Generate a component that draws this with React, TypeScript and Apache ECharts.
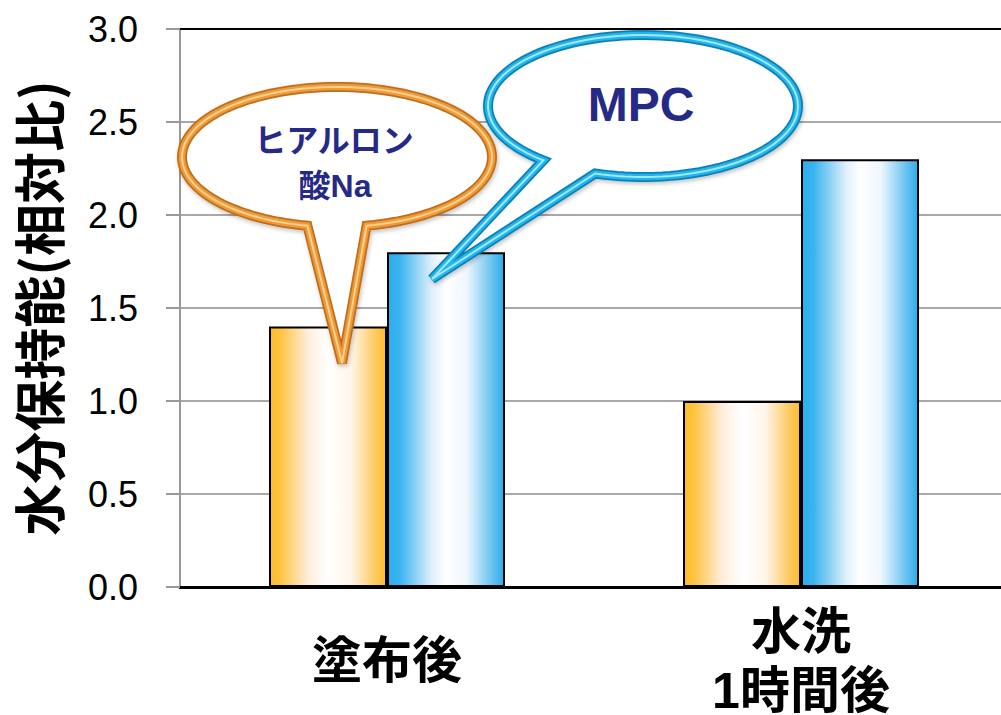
import React, { useEffect, useRef } from "react";
import * as echarts from "echarts";

const categories = ["塗布後", "水洗\n1時間後"];
const hyaluronValues = [1.4, 1.0];
const mpcValues = [1.8, 2.3];
const yTicks = { min: 0, max: 3, interval: 0.5 };
const yAxisName = "水分保持能(相対比)";
const bubbleHyaluron = ["ヒアルロン", "酸Na"];
const bubbleMpc = "MPC";

function bubblePoints(
  cx: number,
  cy: number,
  rx: number,
  ry: number,
  tStartDeg: number,
  tEndDeg: number,
  tip: [number, number]
): number[][] {
  const pts: number[][] = [tip];
  const n = 120;
  const a0 = (tStartDeg * Math.PI) / 180;
  const a1 = ((tEndDeg - 360) * Math.PI) / 180;
  for (let i = 0; i <= n; i++) {
    const a = a0 + ((a1 - a0) * i) / n;
    pts.push([cx + rx * Math.cos(a), cy + ry * Math.sin(a)]);
  }
  return pts;
}

function bubble(points: number[][], dark: string, mid: string, light: string) {
  return [
    {
      type: "polygon",
      z: 100,
      shape: { points },
      style: {
        fill: "#ffffff",
        stroke: dark,
        lineWidth: 10,
        lineJoin: "miter",
        shadowBlur: 4,
        shadowColor: "rgba(0,0,0,0.25)",
        shadowOffsetX: 1,
        shadowOffsetY: 2,
      },
    },
    {
      type: "polygon",
      z: 101,
      shape: { points },
      style: { fill: "none", stroke: mid, lineWidth: 6.5, lineJoin: "miter" },
    },
    {
      type: "polygon",
      z: 102,
      shape: { points },
      style: { fill: "none", stroke: light, lineWidth: 2, lineJoin: "miter" },
    },
  ];
}

export default function App() {
  const ref = useRef<HTMLDivElement>(null);

  useEffect(() => {
    if (!ref.current) return;
    const chart = echarts.init(ref.current, undefined, { renderer: "svg" });

    const orangeGrad = new echarts.graphic.LinearGradient(0, 0, 1, 0, [
      { offset: 0, color: "#FDBC2C" },
      { offset: 0.08, color: "#FEC23E" },
      { offset: 0.33, color: "#FFEEDD" },
      { offset: 0.5, color: "#FFFFFF" },
      { offset: 0.7, color: "#FFF6EA" },
      { offset: 0.9, color: "#FDCB66" },
      { offset: 1, color: "#FDBC2C" },
    ]);
    const blueGrad = new echarts.graphic.LinearGradient(0, 0, 1, 0, [
      { offset: 0, color: "#2BAEEE" },
      { offset: 0.1, color: "#3AB3EE" },
      { offset: 0.38, color: "#E0F0FC" },
      { offset: 0.5, color: "#FFFFFF" },
      { offset: 0.68, color: "#EEF6FD" },
      { offset: 0.92, color: "#5BBDF0" },
      { offset: 1, color: "#2BAEEE" },
    ]);

    const orangePts = bubblePoints(337, 157, 155, 70, 79, 101, [342, 363]);
    const bluePts = bubblePoints(643, 106, 155, 71, 108, 130, [432, 279]);

    const textStyleBase = {
      fontFamily: "'Liberation Sans', 'Noto Sans CJK JP', sans-serif",
      fontWeight: "bold",
      fill: "#262A87",
      align: "center",
      verticalAlign: "middle",
    };

    chart.setOption({
      animation: false,
      backgroundColor: "#ffffff",
      grid: {
        left: 180,
        right: -7,
        top: 29,
        bottom: 128,
        outerBoundsMode: "none",
        containLabel: false,
      },
      xAxis: [
        {
          type: "category",
          data: categories,
          position: "bottom",
          axisLine: { show: true, lineStyle: { color: "#000000", width: 3 } },
          axisTick: { show: false },
          axisLabel: {
            margin: 74,
            verticalAlign: "middle",
            fontSize: 50,
            lineHeight: 59,
            fontWeight: "bold",
            color: "#000000",
            fontFamily: "'Liberation Sans', 'Noto Sans CJK JP', sans-serif",
          },
        },
        {
          type: "category",
          data: categories,
          position: "top",
          axisLine: { show: true, lineStyle: { color: "#000000", width: 2 } },
          axisTick: { show: false },
          axisLabel: { show: false },
        },
      ],
      yAxis: {
        type: "value",
        min: yTicks.min,
        max: yTicks.max,
        interval: yTicks.interval,
        name: yAxisName,
        nameLocation: "middle",
        nameGap: 117,
        nameTextStyle: {
          fontSize: 52,
          fontWeight: "bold",
          color: "#000000",
          fontFamily: "'Noto Sans CJK JP', sans-serif",
        },
        axisLine: { show: true, lineStyle: { color: "#999999", width: 2 } },
        axisTick: {
          show: true,
          inside: false,
          length: 14,
          lineStyle: { color: "#999999", width: 2 },
        },
        axisLabel: {
          margin: 42,
          fontSize: 36,
          color: "#000000",
          fontFamily: "'Liberation Sans', Arial, sans-serif",
          formatter: (v: number) => v.toFixed(1),
        },
        splitLine: { show: true, lineStyle: { color: "#A8A8A8", width: 2 } },
      },
      series: [
        {
          name: "ヒアルロン酸Na",
          type: "bar",
          data: hyaluronValues,
          barWidth: 118,
          barGap: "0%",
          itemStyle: { color: orangeGrad, borderColor: "#000000", borderWidth: 2 },
        },
        {
          name: "MPC",
          type: "bar",
          data: mpcValues,
          barWidth: 118,
          barGap: "0%",
          itemStyle: { color: blueGrad, borderColor: "#000000", borderWidth: 2 },
        },
      ],
      graphic: [
        ...bubble(orangePts, "#C06E1C", "#EC9A3A", "#FFD08A"),
        ...bubble(bluePts, "#0E7FB8", "#22B6E8", "#A0E8FF"),
        {
          type: "text",
          z: 110,
          x: 334,
          y: 141,
          style: { ...textStyleBase, text: bubbleHyaluron[0], fontSize: 32 },
        },
        {
          type: "text",
          z: 110,
          x: 335,
          y: 186,
          style: { ...textStyleBase, text: bubbleHyaluron[1], fontSize: 32 },
        },
        {
          type: "text",
          z: 110,
          x: 641,
          y: 104,
          style: { ...textStyleBase, text: bubbleMpc, fontSize: 48 },
        },
      ],
    });

    return () => chart.dispose();
  }, []);

  return (
    <div
      ref={ref}
      style={{ position: "fixed", left: 0, top: 0, width: 1001, height: 715 }}
    />
  );
}
